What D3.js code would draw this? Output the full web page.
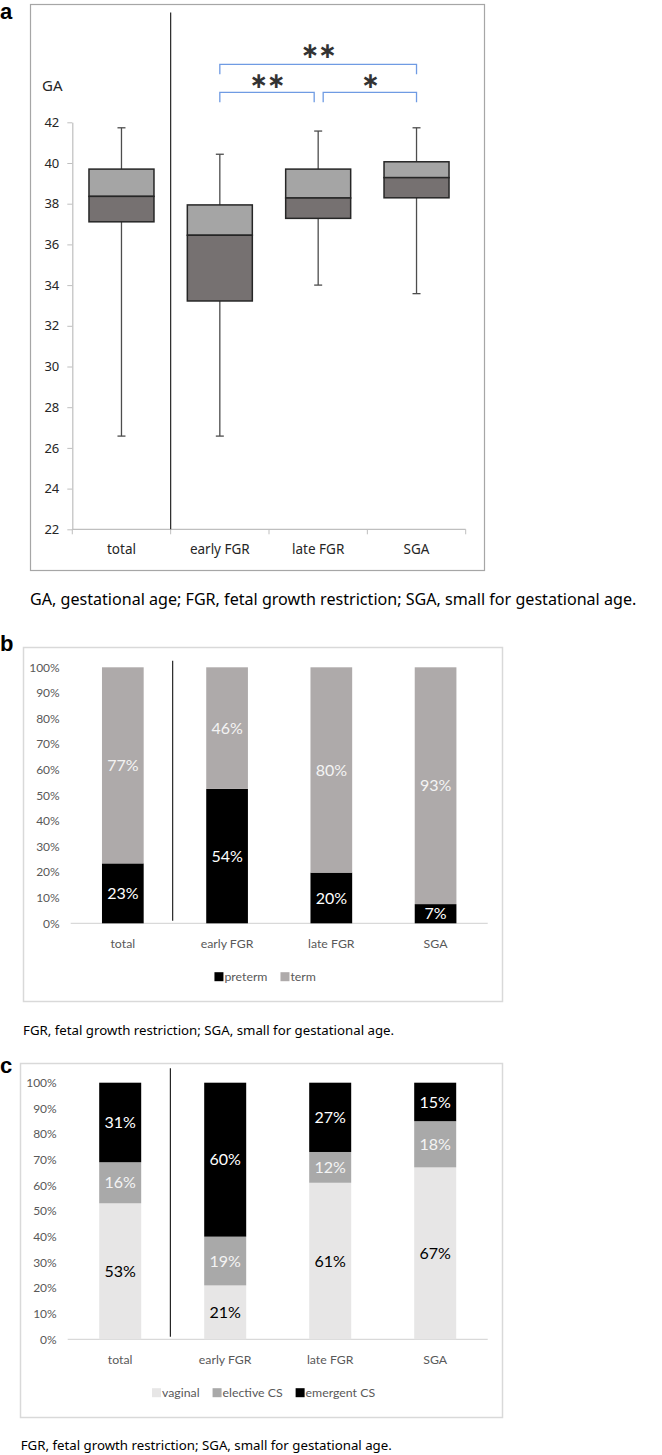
<!DOCTYPE html>
<html><head><meta charset="utf-8">
<script src="https://cdn.jsdelivr.net/npm/d3@7/dist/d3.min.js"></script>
<style>
html,body{margin:0;padding:0;background:#fff;}
svg{display:block;}
</style></head>
<body>
<svg id="chart" width="662" height="1455"></svg>
<script>
// ---------- DATA ----------
const categories = ["total", "early FGR", "late FGR", "SGA"];
// Panel a: gestational age box plots
const gaTicks = [22, 24, 26, 28, 30, 32, 34, 36, 38, 40, 42];
const gaMin    = [26.58, 26.58, 34.0, 33.58];
const gaQ1     = [37.11, 33.22, 37.28, 38.29];
const gaMedian = [38.36, 36.45, 38.28, 39.28];
const gaQ3     = [39.70, 37.94, 39.70, 40.06];
const gaMax    = [41.73, 40.43, 41.57, 41.73];
const sigBrackets = [
  {from: "early FGR", to: "SGA", label: "**", level: 2},
  {from: "early FGR", to: "late FGR", label: "**", level: 1},
  {from: "late FGR", to: "SGA", label: "*", level: 1}
];
// Panel b: preterm / term
const pctTicks = [0, 10, 20, 30, 40, 50, 60, 70, 80, 90, 100];
const preterm = [23.4, 52.5, 19.8, 7.5];
const term    = [76.6, 47.5, 80.2, 92.5];
const pretermLabels = ["23%", "54%", "20%", "7%"];
const termLabels    = ["77%", "46%", "80%", "93%"];
// Panel c: delivery mode
const vaginal   = [53, 21, 61, 67];
const elective  = [16, 19, 12, 18];
const emergent  = [31, 60, 27, 15];
const vaginalLabels  = ["53%", "21%", "61%", "67%"];
const electiveLabels = ["16%", "19%", "12%", "18%"];
const emergentLabels = ["31%", "60%", "27%", "15%"];

const captionA = "GA, gestational age; FGR, fetal growth restriction; SGA, small for gestational age.";
const captionBC = "FGR, fetal growth restriction; SGA, small for gestational age.";

const svg = d3.select("#chart");
const fontA = "'Noto Sans', 'Open Sans', sans-serif";
const fontB = "Lato, 'Noto Sans', sans-serif";

// panel letters
function panelLetter(t, x, y) {
  svg.append("text").attr("x", x).attr("y", y).text(t)
    .attr("font-family", "'Liberation Sans', Arial, sans-serif")
    .attr("font-weight", "bold").attr("font-size", 22).attr("fill", "#000");
}
panelLetter("a", 0, 19);
panelLetter("b", 0, 651);
panelLetter("c", 0, 1073);

// ---------- PANEL A ----------
(function () {
  const g = svg.append("g");
  g.append("rect").attr("x", 30.5).attr("y", 4.5).attr("width", 454).attr("height", 566)
    .attr("fill", "none").attr("stroke", "#a6a6a6").attr("stroke-width", 1.2);

  const y = d3.scaleLinear().domain([22, 42]).range([529.3, 122.3]);
  const x = d3.scaleBand().domain(categories).range([72.3, 465.7]).padding(0);

  // y axis
  const yAx = g.append("g").attr("transform", "translate(72.3,0)")
    .call(d3.axisLeft(y).tickValues(gaTicks).tickSize(5).tickSizeOuter(0).tickPadding(8));
  yAx.select(".domain").attr("stroke", "#bfbfbf").attr("stroke-width", 1.2);
  yAx.selectAll(".tick line").attr("stroke", "#bfbfbf");
  yAx.selectAll(".tick text").attr("font-family", fontA).attr("font-size", 13).attr("fill", "#262626");

  // x axis
  g.append("line").attr("x1", x.range()[0]).attr("x2", x.range()[1])
    .attr("y1", y(22)).attr("y2", y(22)).attr("stroke", "#bfbfbf").attr("stroke-width", 1.2);
  const bounds = categories.map(c => x(c)).concat([x.range()[1]]);
  g.selectAll(".xt").data(bounds).join("line")
    .attr("x1", d => d).attr("x2", d => d).attr("y1", y(22)).attr("y2", y(22) + 5)
    .attr("stroke", "#bfbfbf");
  g.selectAll(".xl").data(categories).join("text")
    .attr("x", d => x(d) + x.bandwidth() / 2).attr("y", y(22) + 25)
    .attr("text-anchor", "middle").attr("font-family", fontA).attr("font-size", 13.5)
    .attr("fill", "#262626").text(d => d);

  // GA label
  g.append("text").attr("x", 42).attr("y", 91).text("GA")
    .attr("font-family", fontA).attr("font-size", 15).attr("fill", "#262626");

  // divider
  g.append("line").attr("x1", x("early FGR")).attr("x2", x("early FGR"))
    .attr("y1", 12.5).attr("y2", y(22)).attr("stroke", "#262626").attr("stroke-width", 1.2);

  // boxes
  const bw = 65, cap = 8;
  categories.forEach((c, i) => {
    const cx = x(c) + x.bandwidth() / 2;
    g.append("line").attr("x1", cx).attr("x2", cx).attr("y1", y(gaMax[i])).attr("y2", y(gaQ3[i]))
      .attr("stroke", "#4d4d4d").attr("stroke-width", 1.3);
    g.append("line").attr("x1", cx).attr("x2", cx).attr("y1", y(gaQ1[i])).attr("y2", y(gaMin[i]))
      .attr("stroke", "#4d4d4d").attr("stroke-width", 1.3);
    [gaMax[i], gaMin[i]].forEach(v => {
      g.append("line").attr("x1", cx - cap / 2).attr("x2", cx + cap / 2).attr("y1", y(v)).attr("y2", y(v))
        .attr("stroke", "#4d4d4d").attr("stroke-width", 1.3);
    });
    g.append("rect").attr("x", cx - bw / 2).attr("width", bw)
      .attr("y", y(gaQ3[i])).attr("height", y(gaMedian[i]) - y(gaQ3[i]))
      .attr("fill", "#a5a5a5").attr("stroke", "#262626").attr("stroke-width", 1.5);
    g.append("rect").attr("x", cx - bw / 2).attr("width", bw)
      .attr("y", y(gaMedian[i])).attr("height", y(gaQ1[i]) - y(gaMedian[i]))
      .attr("fill", "#767171").attr("stroke", "#262626").attr("stroke-width", 1.5);
  });

  // significance brackets
  const levelY = {1: 92.3, 2: 64.3};
  const labelGap = {1: 11, 2: 13};
  sigBrackets.forEach(b => {
    let x1 = x(b.from) + x.bandwidth() / 2, x2 = x(b.to) + x.bandwidth() / 2;
    if (b.level === 1 && b.to === "late FGR") x2 -= 4;
    if (b.level === 1 && b.from === "late FGR") x1 += 5;
    const yy = levelY[b.level];
    g.append("path").attr("d", `M${x1},${yy + 10}V${yy}H${x2}V${yy + 10}`)
      .attr("fill", "none").attr("stroke", "#6f9be3").attr("stroke-width", 1.3);
    g.append("text").attr("x", (x1 + x2) / 2).attr("y", yy - labelGap[b.level] + 6.3).attr("text-anchor", "middle")
      .attr("font-family", "'DejaVu Sans', sans-serif").attr("font-weight", "bold").attr("font-size", 22)
      .attr("fill", "#333").attr("letter-spacing", -1).text(b.label.replace(/\*/g, "\u2217"));
  });

  svg.append("text").attr("x", 30).attr("y", 605).text(captionA)
    .attr("font-family", fontA).attr("font-size", 16.1).attr("fill", "#000");
})();

// ---------- Stacked bar helper ----------
function stackedPanel(opts) {
  const g = svg.append("g");
  g.append("rect").attr("x", opts.frame[0]).attr("y", opts.frame[1]).attr("width", opts.frame[2]).attr("height", opts.frame[3])
    .attr("fill", "none").attr("stroke", "#d9d9d9").attr("stroke-width", 1.5);
  const y = d3.scaleLinear().domain([0, 100]).range(opts.yRange);
  const x = d3.scaleBand().domain(categories).range(opts.xRange).paddingInner(0.6).paddingOuter(0.3);

  const yAx = g.append("g").attr("transform", `translate(${opts.xRange[0]},0)`)
    .call(d3.axisLeft(y).tickValues(pctTicks).tickFormat(d => d + "%").tickSize(0).tickPadding(opts.tickPad));
  yAx.select(".domain").remove();
  yAx.selectAll(".tick text").attr("font-family", fontB).attr("font-size", 12).attr("fill", "#595959");

  g.append("line").attr("x1", opts.xRange[0]).attr("x2", opts.xRange[1]).attr("y1", y(0)).attr("y2", y(0))
    .attr("stroke", "#d9d9d9").attr("stroke-width", 1.2);

  const stacked = d3.stack().keys(opts.series.map(s => s.key))(
    categories.map((c, i) => { const o = {cat: c}; opts.series.forEach(s => o[s.key] = s.values[i]); return o; })
  );
  stacked.forEach((layer, li) => {
    const s = opts.series[li];
    g.selectAll(null).data(layer).join("rect")
      .attr("x", d => x(d.data.cat)).attr("width", x.bandwidth())
      .attr("y", d => y(d[1])).attr("height", d => y(d[0]) - y(d[1]))
      .attr("fill", s.color);
    g.selectAll(null).data(layer).join("text")
      .attr("x", d => x(d.data.cat) + x.bandwidth() / 2).attr("y", d => y((d[0] + d[1]) / 2))
      .attr("dy", "0.35em").attr("text-anchor", "middle")
      .attr("font-family", fontB).attr("font-size", 16).attr("fill", s.labelColor)
      .text((d, i) => s.labels[i]);
  });

  // divider
  g.append("line").attr("x1", opts.xRange[0] + x.step() - 2.3)
    .attr("x2", opts.xRange[0] + x.step() - 2.3)
    .attr("y1", opts.divider[0]).attr("y2", opts.divider[1]).attr("stroke", "#262626").attr("stroke-width", 1.2);

  g.selectAll(null).data(categories).join("text")
    .attr("x", d => x(d) + x.bandwidth() / 2).attr("y", y(0) + 20).attr("dy", "0.35em")
    .attr("text-anchor", "middle").attr("font-family", fontB).attr("font-size", 12.3).attr("fill", "#595959")
    .text(d => d);

  // legend
  const lg = g.append("g");
  let lx = 0;
  opts.series.forEach(s => {
    lg.append("rect").attr("x", lx).attr("y", opts.legendY - 4.5).attr("width", 9).attr("height", 9).attr("fill", s.color);
    const t = lg.append("text").attr("x", lx + 10).attr("y", opts.legendY).attr("dy", "0.35em")
      .attr("font-family", fontB).attr("font-size", 12.3).attr("fill", "#595959").text(s.key);
    lx += 10 + t.node().getComputedTextLength() + 13;
  });
  const bb = lg.node().getBBox();
  const mid = (opts.xRange[0] + opts.xRange[1]) / 2 - 14;
  lg.attr("transform", `translate(${mid - (bb.x + bb.width / 2)},0)`);

  svg.append("text").attr("x", opts.captionX).attr("y", opts.captionY).text(captionBC)
    .attr("font-family", fontA).attr("font-size", 13.25).attr("fill", "#000");
}

stackedPanel({
  frame: [23.5, 647.5, 479, 354],
  yRange: [923.3, 667.3],
  xRange: [70.7, 487.7],
  tickPad: 11,
  divider: [660.7, 920.7],
  series: [
    {key: "preterm", values: preterm, labels: pretermLabels, color: "#000000", labelColor: "#ffffff"},
    {key: "term", values: term, labels: termLabels, color: "#aeaaaa", labelColor: "#f4f4f4"}
  ],
  legendY: 976.7,
  captionX: 23, captionY: 1035
});

stackedPanel({
  frame: [20.5, 1063.5, 482, 354],
  yRange: [1339.3, 1082.7],
  xRange: [67.7, 487.7],
  tickPad: 11,
  divider: [1068.3, 1336.7],
  series: [
    {key: "vaginal", values: vaginal, labels: vaginalLabels, color: "#e7e6e6", labelColor: "#000000"},
    {key: "elective CS", values: elective, labels: electiveLabels, color: "#a9a9a9", labelColor: "#f4f4f4"},
    {key: "emergent CS", values: emergent, labels: emergentLabels, color: "#000000", labelColor: "#ffffff"}
  ],
  legendY: 1392.7,
  captionX: 20.7, captionY: 1450
});
</script>
</body></html>
